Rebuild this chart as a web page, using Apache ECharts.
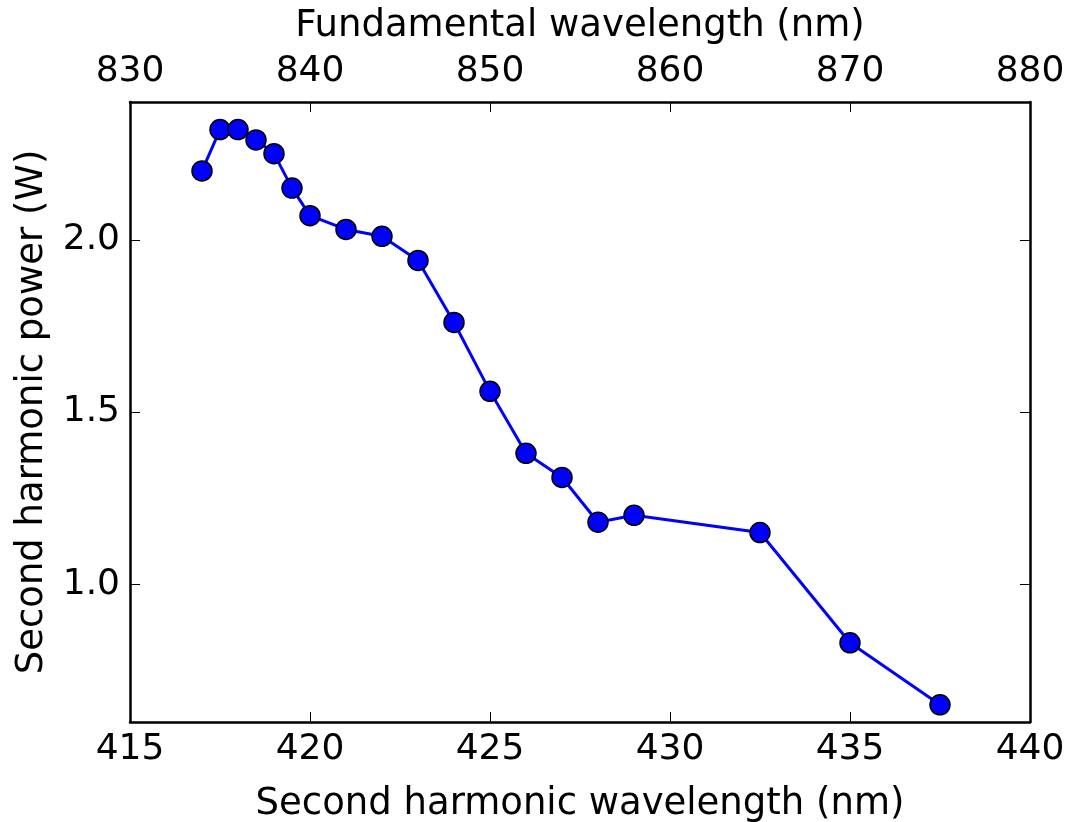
<!DOCTYPE html>
<html>
<head>
<meta charset="utf-8">
<script src="https://cdn.jsdelivr.net/npm/echarts@6/dist/echarts.min.js"></script>
<style>html,body{margin:0;padding:0;background:#fff}#c{width:1074px;height:822px}</style>
</head>
<body>
<div id="c"></div>
<script>
var shgWavelength = [417.0, 417.5, 418.0, 418.5, 419.0, 419.5, 420.0, 421.0, 422.0, 423.0, 424.0, 425.0, 426.0, 427.0, 428.0, 429.0, 432.5, 435.0, 437.5];
var shgPower = [2.20, 2.32, 2.32, 2.29, 2.25, 2.15, 2.07, 2.03, 2.01, 1.94, 1.76, 1.56, 1.38, 1.31, 1.18, 1.20, 1.15, 0.83, 0.65];
var yTicks = [1.0, 1.5, 2.0];
var xTitle = 'Second harmonic wavelength (nm)';
var topTitle = 'Fundamental wavelength (nm)';
var yTitle = 'Second harmonic power (W)';

var pts = shgWavelength.map(function (x, i) { return [x, shgPower[i]]; });
var font = 'DejaVu Sans';
var fs = 36;
var nfs = 37;
var lineStyle = { color: '#000', width: 2.5 };
var tickStyle = { color: '#000', width: 1 };

var chart = echarts.init(document.getElementById('c'), null, { renderer: 'canvas' });
chart.setOption({
  backgroundColor: '#fff',
  animation: false,
  grid: { left: 130, top: 102, width: 900, height: 620, containLabel: false, outerBoundsMode: 'none' },
  xAxis: [{
    type: 'value', position: 'bottom', min: 415, max: 440, interval: 5,
    name: xTitle, nameLocation: 'middle', nameGap: 64,
    nameTextStyle: { fontFamily: font, fontSize: nfs, color: '#000' },
    axisLine: { show: true, onZero: false, lineStyle: lineStyle },
    axisTick: { show: true, inside: true, length: 10, lineStyle: tickStyle },
    axisLabel: { fontFamily: font, fontSize: fs, color: '#000', margin: 10 },
    splitLine: { show: false }
  }, {
    type: 'value', position: 'top', min: 830, max: 880, interval: 10,
    name: topTitle, nameLocation: 'middle', nameGap: 57,
    nameTextStyle: { fontFamily: font, fontSize: nfs, color: '#000' },
    axisLine: { show: true, onZero: false, lineStyle: lineStyle },
    axisTick: { show: true, inside: true, length: 10, lineStyle: tickStyle },
    axisLabel: { fontFamily: font, fontSize: fs, color: '#000', margin: 12 },
    splitLine: { show: false }
  }],
  yAxis: [{
    type: 'value', position: 'left', min: 0.6, max: 2.4,
    name: yTitle, nameLocation: 'middle', nameGap: 79,
    nameTextStyle: { fontFamily: font, fontSize: nfs, color: '#000' },
    axisLine: { show: true, onZero: false, lineStyle: lineStyle },
    axisTick: { show: true, inside: true, length: 10, lineStyle: tickStyle, customValues: yTicks },
    axisLabel: { fontFamily: font, fontSize: fs, color: '#000', margin: 10, customValues: yTicks,
      formatter: function (v) { return Number(v).toFixed(1); } },
    splitLine: { show: false }
  }, {
    type: 'value', position: 'right', min: 0.6, max: 2.4,
    axisLine: { show: true, onZero: false, lineStyle: lineStyle },
    axisTick: { show: true, inside: true, length: 10, lineStyle: tickStyle, customValues: yTicks },
    axisLabel: { show: false },
    splitLine: { show: false }
  }],
  series: [{
    type: 'line', xAxisIndex: 0, yAxisIndex: 0, data: pts,
    symbol: 'circle', symbolSize: 20,
    lineStyle: { color: '#0000ff', width: 3 },
    itemStyle: { color: '#0000ff', borderColor: '#000', borderWidth: 1.5 },
    z: 3
  }]
});
</script>
</body>
</html>
